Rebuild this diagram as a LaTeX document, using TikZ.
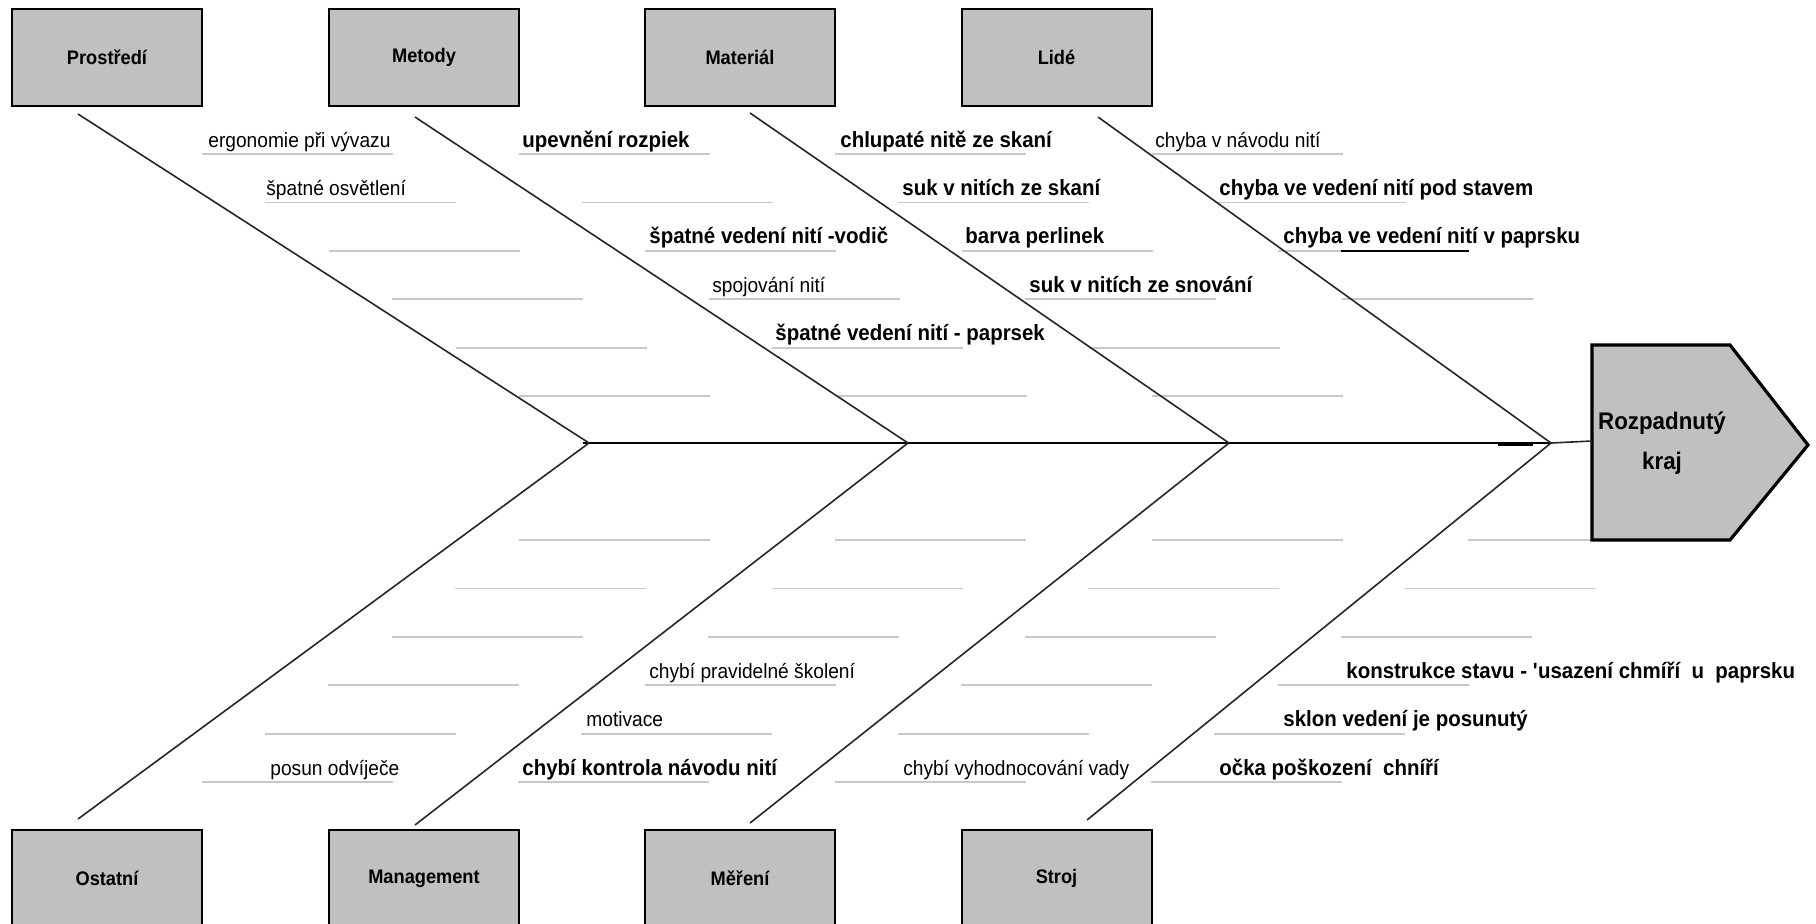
\documentclass[tikz,border=0pt]{standalone}
\usepackage{fontspec}
\setmainfont{Liberation Sans}[FakeStretch=0.93]
\definecolor{boxgrey}{RGB}{192,192,192}
\definecolor{ribgrey}{RGB}{200,200,200}
\tikzset{
  catbox/.style={draw=black, line width=1pt, fill=boxgrey, minimum width=95pt, minimum height=48.5pt, inner sep=0pt, font=\bfseries\fontsize{9.8}{12}\selectfont},
  bone/.style={draw=black!85, line width=0.8pt},
  rib/.style={draw=ribgrey, line width=0.9pt},
  causeb/.style={anchor=base west, inner sep=0pt, font=\bfseries\fontsize{11}{13}\selectfont},
  causer/.style={anchor=base west, inner sep=0pt, font=\fontsize{10.3}{12}\selectfont}
}
\begin{document}
\begin{tikzpicture}[x=0.5pt,y=-0.5pt]
			%%%%% START %%%%%
			\def\yspine{443}
			\def\ytop{154}
			\def\ybot{540}
			\def\dx{63.4}
			\def\dy{48.4}
			\def\rlen{191}
			\def\lift{7}
			\def\xone{202}
			\def\xtwo{518.5}
			\def\xthree{835}
			\def\xfour{1151.5}
			\def\xfive{1468}
			
			\useasboundingbox (0,0) rectangle (1816,923);
			\clip (0,0) rectangle (1816,923);
			\fill[white] (0,0) rectangle (1816,923);
			
			% category boxes
			\node[catbox] (prostredi) at (107,57.5) {Prostředí};
			\node[catbox] (metody) at (424,57.5) {Metody};
			\node[catbox] (material) at (740,57.5) {Materiál};
			\node[catbox] (lide) at (1056.5,57.5) {Lidé};
			\node[catbox] (ostatni) at (107,878.5) {Ostatní};
			\node[catbox] (management) at (424,878.5) {Management};
			\node[catbox] (mereni) at (740,878.5) {Měření};
			\node[catbox] (stroj) at (1056.5,878.5) {Stroj};
			
			% ribs, top half
			\draw[rib] (\xone,\ytop) -- ++(\rlen,0) (\xone+\dx,\ytop+\dy) -- ++(\rlen,0) (\xone+2*\dx,\ytop+2*\dy) -- ++(\rlen,0)
				(\xone+3*\dx,\ytop+3*\dy) -- ++(\rlen,0) (\xone+4*\dx,\ytop+4*\dy) -- ++(\rlen,0) (\xone+5*\dx,\ytop+5*\dy) -- ++(\rlen,0);
			\draw[rib] (\xtwo,\ytop) -- ++(\rlen,0) (\xtwo+\dx,\ytop+\dy) -- ++(\rlen,0) (\xtwo+2*\dx,\ytop+2*\dy) -- ++(\rlen,0)
				(\xtwo+3*\dx,\ytop+3*\dy) -- ++(\rlen,0) (\xtwo+4*\dx,\ytop+4*\dy) -- ++(\rlen,0) (\xtwo+5*\dx,\ytop+5*\dy) -- ++(\rlen,0);
			\draw[rib] (\xthree,\ytop) -- ++(\rlen,0) (\xthree+\dx,\ytop+\dy) -- ++(\rlen,0) (\xthree+2*\dx,\ytop+2*\dy) -- ++(\rlen,0)
				(\xthree+3*\dx,\ytop+3*\dy) -- ++(\rlen,0) (\xthree+4*\dx,\ytop+4*\dy) -- ++(\rlen,0) (\xthree+5*\dx,\ytop+5*\dy) -- ++(\rlen,0);
			\draw[rib] (\xfour,\ytop) -- ++(\rlen,0) (\xfour+\dx,\ytop+\dy) -- ++(\rlen,0) (\xfour+2*\dx,\ytop+2*\dy) -- ++(\rlen,0)
				(\xfour+3*\dx,\ytop+3*\dy) -- ++(\rlen,0);
			
			% ribs, bottom half
			\draw[rib] (\xtwo,\ybot) -- ++(\rlen,0) (\xtwo-\dx,\ybot+\dy) -- ++(\rlen,0) (\xtwo-2*\dx,\ybot+2*\dy) -- ++(\rlen,0)
				(\xtwo-3*\dx,\ybot+3*\dy) -- ++(\rlen,0) (\xtwo-4*\dx,\ybot+4*\dy) -- ++(\rlen,0) (\xtwo-5*\dx,\ybot+5*\dy) -- ++(\rlen,0);
			\draw[rib] (\xthree,\ybot) -- ++(\rlen,0) (\xthree-\dx,\ybot+\dy) -- ++(\rlen,0) (\xthree-2*\dx,\ybot+2*\dy) -- ++(\rlen,0)
				(\xthree-3*\dx,\ybot+3*\dy) -- ++(\rlen,0) (\xthree-4*\dx,\ybot+4*\dy) -- ++(\rlen,0) (\xthree-5*\dx,\ybot+5*\dy) -- ++(\rlen,0);
			\draw[rib] (\xfour,\ybot) -- ++(\rlen,0) (\xfour-\dx,\ybot+\dy) -- ++(\rlen,0) (\xfour-2*\dx,\ybot+2*\dy) -- ++(\rlen,0)
				(\xfour-3*\dx,\ybot+3*\dy) -- ++(\rlen,0) (\xfour-4*\dx,\ybot+4*\dy) -- ++(\rlen,0) (\xfour-5*\dx,\ybot+5*\dy) -- ++(\rlen,0);
			\draw[rib] (\xfive,\ybot) -- ++(\rlen,0) (\xfive-\dx,\ybot+\dy) -- ++(\rlen,0) (\xfive-2*\dx,\ybot+2*\dy) -- ++(\rlen,0)
				(\xfive-3*\dx,\ybot+3*\dy) -- ++(\rlen,0) (\xfive-4*\dx,\ybot+4*\dy) -- ++(\rlen,0) (\xfive-5*\dx,\ybot+5*\dy) -- ++(\rlen,0);
			
			% head
			\draw[line width=1.6pt, fill=boxgrey] (1592,345) -- (1730,345) -- (1808,445) -- (1730,540) -- (1592,540) -- cycle;
			\node[font=\bfseries\fontsize{12}{20}\selectfont, align=center, inner sep=0pt] (effect) at (1662,443) {Rozpadnutý\\kraj};
			\coordinate (head) at (1592,441);
			
			% spine and bones
			\coordinate (jone) at (589,\yspine);
			\coordinate (jtwo) at (908,\yspine);
			\coordinate (jthree) at (1229,\yspine);
			\coordinate (jfour) at (1551,\yspine);
			\coordinate (bprostredi) at (78,114);
			\coordinate (bmetody) at (415,117);
			\coordinate (bmaterial) at (750,113);
			\coordinate (blide) at (1098,117);
			\coordinate (bostatni) at (78,819);
			\coordinate (bmanagement) at (415,825);
			\coordinate (bmereni) at (750,823);
			\coordinate (bstroj) at (1087,820);
			\draw[bone, draw=black] (583,\yspine) -- (jfour);
			\draw[bone] (jfour) -- (head);
			\draw[line width=1.5pt] (1498,444) -- (1533,444);
			\draw[bone] (bprostredi) -- (jone);
			\draw[bone] (bmetody) -- (jtwo);
			\draw[bone] (bmaterial) -- (jthree);
			\draw[bone] (blide) -- (jfour);
			\draw[bone] (bostatni) -- (jone);
			\draw[bone] (bmanagement) -- (jtwo);
			\draw[bone] (bmereni) -- (jthree);
			\draw[bone] (bstroj) -- (jfour);
			
			% causes, top half
			\node[causer] (ergonomie) at (208,\ytop-\lift) {ergonomie při vývazu};
			\node[causer] (osvetleni) at (266,\ytop+\dy-\lift) {špatné osvětlení};
			\node[causeb] (rozpiek) at (522,\ytop-\lift) {upevnění rozpiek};
			\node[causeb] (vodic) at (649,\ytop+2*\dy-\lift) {špatné vedení nití -vodič};
			\node[causer] (spojovani) at (712,\ytop+3*\dy-\lift) {spojování nití};
			\node[causeb] (paprsek) at (775,\ytop+4*\dy-\lift) {špatné vedení nití - paprsek};
			\node[causeb] (chlupate) at (840,\ytop-\lift) {chlupaté nitě ze skaní};
			\node[causeb] (sukskani) at (902,\ytop+\dy-\lift) {suk v nitích ze skaní};
			\node[causeb] (perlinky) at (965,\ytop+2*\dy-\lift) {barva perlinek};
			\node[causeb] (suksnovani) at (1029,\ytop+3*\dy-\lift) {suk v nitích ze snování};
			\node[causer] (navod) at (1155,\ytop-\lift) {chyba v návodu nití};
			\node[causeb] (podstavem) at (1219,\ytop+\dy-\lift) {chyba ve vedení nití pod stavem};
			\node[causeb] (vpaprsku) at (1283,\ytop+2*\dy-\lift) {chyba ve vedení nití v paprsku};
			\draw[line width=1.2pt] (1341,251) -- (1469,251);
			
			% causes, bottom half
			\node[causer] (skoleni) at (649,\ybot+3*\dy-\lift) {chybí pravidelné školení};
			\node[causer] (motivace) at (586,\ybot+4*\dy-\lift) {motivace};
			\node[causeb] (kontrola) at (522,\ybot+5*\dy-\lift) {chybí kontrola návodu nití};
			\node[causer] (odvijec) at (270,\ybot+5*\dy-\lift) {posun odvíječe};
			\node[causer] (vyhodnoceni) at (903,\ybot+5*\dy-\lift) {chybí vyhodnocování vady};
			\node[causeb] (konstrukce) at (1346,\ybot+3*\dy-\lift) {konstrukce stavu - \textquotesingle usazení chmíří\ \ u\ \ paprsku};
			\node[causeb] (sklon) at (1283,\ybot+4*\dy-\lift) {sklon vedení je posunutý};
			\node[causeb] (ocka) at (1219,\ybot+5*\dy-\lift) {očka poškození\ \ chníří};
			%%%%% END %%%%%
\end{tikzpicture}
\end{document}
